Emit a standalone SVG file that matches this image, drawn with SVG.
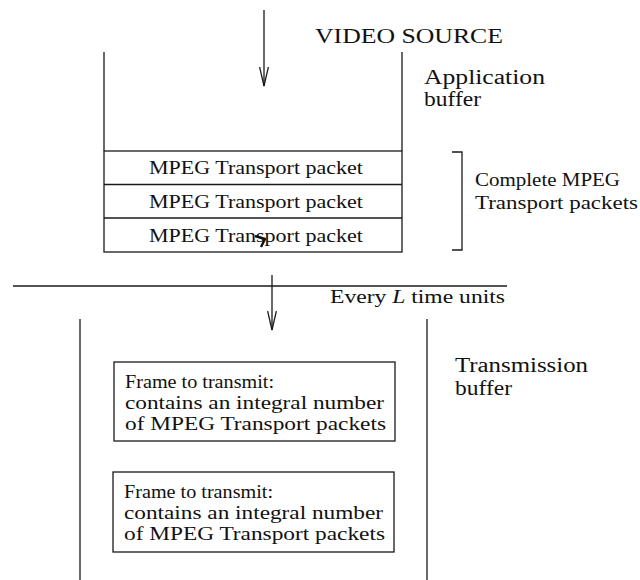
<svg xmlns="http://www.w3.org/2000/svg" width="640" height="580" viewBox="0 0 640 580">
  <style>
    .ln { stroke: #1a1a1a; stroke-width: 1.3; fill: none; }
    .bx { stroke: #1a1a1a; stroke-width: 1.3; fill: #ffffff; }
    text { font-family: "Liberation Serif", "DejaVu Serif", serif; fill: #111111; }
    .big { font-size: 22px; }
    .lab { font-size: 20px; }
    .mid { font-size: 19px; }
    .sm { font-size: 18px; }
  </style>
  <defs>
    <!-- open V arrowhead, drawn along +x so orient="auto" follows the line -->
    <marker id="vee" viewBox="0 0 20 10" refX="19" refY="5" markerWidth="20" markerHeight="10" markerUnits="userSpaceOnUse" orient="auto">
      <path d="M0,0.6 L19,5 L0,9.4" fill="none" stroke="#1a1a1a" stroke-width="1.3"/>
    </marker>
  </defs>
  <rect width="640" height="580" fill="#ffffff"/>

  <!-- source label -->
  <g id="source">
    <text class="big" x="315" y="43" textLength="188" lengthAdjust="spacingAndGlyphs">VIDEO SOURCE</text>
  </g>

  <!-- application buffer -->
  <g id="app-buffer">
    <line class="ln" x1="104" y1="52" x2="104" y2="151"/>
    <line class="ln" x1="402" y1="52" x2="402" y2="151"/>
    <text class="lab" x="424" y="84" textLength="121" lengthAdjust="spacingAndGlyphs">Application</text>
    <text class="lab" x="424" y="106" textLength="57" lengthAdjust="spacingAndGlyphs">buffer</text>
  </g>

  <!-- stacked transport packets -->
  <g id="packets">
    <rect class="bx" x="104" y="151" width="298" height="101"/>
    <line class="ln" x1="104" y1="184.5" x2="402" y2="184.5"/>
    <line class="ln" x1="104" y1="218" x2="402" y2="218"/>
    <text class="mid" x="149" y="174" textLength="214" lengthAdjust="spacingAndGlyphs">MPEG Transport packet</text>
    <text class="mid" x="149" y="208" textLength="214" lengthAdjust="spacingAndGlyphs">MPEG Transport packet</text>
    <text class="mid" x="149" y="242" textLength="214" lengthAdjust="spacingAndGlyphs">MPEG Transport packet</text>
    <path d="M255,236 L265,239 L261,247" fill="none" stroke="#111111" stroke-width="2.4" stroke-linejoin="round"/>
  </g>

  <!-- bracket and its label -->
  <g id="complete-label">
    <path class="ln" d="M452,152 L462,152 L462,250 L452,250"/>
    <text class="sm" x="475" y="186" textLength="145" lengthAdjust="spacingAndGlyphs">Complete MPEG</text>
    <text class="sm" x="475" y="209" textLength="163" lengthAdjust="spacingAndGlyphs">Transport packets</text>
  </g>

  <!-- divider and timing label -->
  <g id="divider">
    <line class="ln" x1="13" y1="286" x2="507" y2="286"/>
    <text class="sm" x="330" y="303" textLength="175" lengthAdjust="spacingAndGlyphs">Every <tspan font-style="italic">L</tspan> time units</text>
  </g>

  <!-- transmission buffer -->
  <g id="tx-buffer">
    <line class="ln" x1="80" y1="319" x2="80" y2="580"/>
    <line class="ln" x1="427" y1="319" x2="427" y2="580"/>
    <text class="lab" x="455" y="372" textLength="133" lengthAdjust="spacingAndGlyphs">Transmission</text>
    <text class="lab" x="455" y="395" textLength="57" lengthAdjust="spacingAndGlyphs">buffer</text>
  </g>

  <g id="frame-1">
    <rect class="bx" x="114" y="362" width="281" height="79"/>
    <text class="mid" x="125" y="388" textLength="149" lengthAdjust="spacingAndGlyphs">Frame to transmit:</text>
    <text class="mid" x="125" y="409" textLength="259" lengthAdjust="spacingAndGlyphs">contains an integral number</text>
    <text class="mid" x="125" y="430" textLength="261" lengthAdjust="spacingAndGlyphs">of MPEG Transport packets</text>
  </g>

  <g id="frame-2">
    <rect class="bx" x="113" y="472" width="281" height="80"/>
    <text class="mid" x="124" y="498" textLength="149" lengthAdjust="spacingAndGlyphs">Frame to transmit:</text>
    <text class="mid" x="124" y="519" textLength="259" lengthAdjust="spacingAndGlyphs">contains an integral number</text>
    <text class="mid" x="124" y="540" textLength="261" lengthAdjust="spacingAndGlyphs">of MPEG Transport packets</text>
  </g>

  <!-- flow arrows -->
  <g id="connectors">
    <line class="ln" x1="264" y1="10" x2="264" y2="86" marker-end="url(#vee)"/>
    <line class="ln" x1="272" y1="275" x2="272" y2="330" marker-end="url(#vee)"/>
  </g>
</svg>
